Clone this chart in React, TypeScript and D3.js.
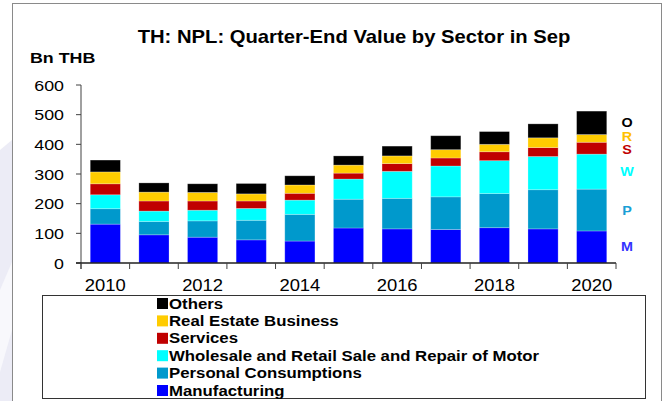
import * as d3 from "d3"

const years = ["2010", "2011", "2012", "2013", "2014", "2015", "2016", "2017", "2018", "2019", "2020"]
const manufacturing = [131, 95, 87, 78, 74, 118, 115, 113, 119, 115, 108]
const personal = [52, 45, 55, 66, 90, 97, 103, 110, 115, 132, 141]
const wholesale = [47, 35, 36, 40, 48, 68, 91, 104, 111, 112, 118]
const services = [37, 34, 31, 25, 23, 20, 26, 27, 30, 30, 40]
const realEstate = [40, 30, 29, 24, 28, 27, 26, 28, 25, 33, 26]
const others = [40, 31, 29, 35, 31, 31, 33, 47, 43, 47, 79]
const yTicks = [0, 100, 200, 300, 400, 500, 600]
const xTickLabels = ["2010", "2012", "2014", "2016", "2018", "2020"]

const series = [
  { key: "M", name: "Manufacturing", values: manufacturing, color: "#0000FF", label: "#3333FF" },
  { key: "P", name: "Personal Consumptions", values: personal, color: "#0099CC", label: "#1A9FD6" },
  { key: "W", name: "Wholesale and Retail Sale and Repair of Motor", values: wholesale, color: "#00FFFF", label: "#00FFFF" },
  { key: "S", name: "Services", values: services, color: "#C00000", label: "#C00000" },
  { key: "R", name: "Real Estate Business", values: realEstate, color: "#FFCC00", label: "#FFC000" },
  { key: "O", name: "Others", values: others, color: "#000000", label: "#000000" },
]

const W = 664
const H = 401
const SX = 1.15 // the source text is a little wider than it is tall
const FONT = "'Liberation Sans', Arial, sans-serif"

function T({ x, y, size, bold, anchor, fill, children }: any) {
  return (
    <text
      transform={`translate(${x},${y}) scale(${SX},1)`}
      fontSize={size}
      fontWeight={bold ? 700 : 400}
      textAnchor={anchor || "start"}
      fill={fill || "#000"}
      fontFamily={FONT}
    >
      {children}
    </text>
  )
}

export default function App() {
  const rows = years.map((year, i) => {
    const r: any = { year }
    series.forEach((s) => (r[s.key] = s.values[i]))
    return r
  })
  const stacked = d3.stack<any>().keys(series.map((s) => s.key))(rows)

  const x = d3.scaleBand().domain(years).range([81, 616]).paddingInner(0.38).paddingOuter(0.19)
  const y = d3.scaleLinear().domain([0, 600]).range([263, 85])
  const step = x.step()
  const boundaries = d3.range(years.length + 1).map((i) => 81 + i * step)

  // end labels next to the last bar, spread apart when they crowd
  const last = years.length - 1
  const endLabels = stacked.map((layer, i) => ({
    s: series[i],
    pos: y((layer[last][0] + layer[last][1]) / 2),
  }))
  const ordered = [...endLabels].sort((a, b) => a.pos - b.pos)
  const minGap = 13
  for (let k = 0; k < 6; k++) {
    for (let j = 1; j < ordered.length; j++) {
      const gap = ordered[j].pos - ordered[j - 1].pos
      if (gap < minGap) {
        const d = (minGap - gap) / 2
        ordered[j].pos += d
        ordered[j - 1].pos -= d
      }
    }
  }

  const legendItems = [...series].reverse()

  return (
    <div style={{ position: "fixed", left: 0, top: 0 }}>
      <svg width={W} height={H} style={{ display: "block" }}>
        <rect width={W} height={H} fill="#fff" />
        <path d="M0,150 L12,140 L12,401 L0,401 Z" fill="#ECECF6" />
        <path d="M0,290 L12,262 L12,330 L0,372 Z" fill="#F8F8FC" />
        <rect x={12.5} y={3.5} width={649} height={H} fill="#fff" stroke="#8a8a8a" strokeWidth={1} />

        <T x={354} y={43} size={17.6} bold anchor="middle">
          TH: NPL: Quarter-End Value by Sector in Sep
        </T>
        <T x={30} y={63} size={15.5} bold>
          Bn THB
        </T>

        {stacked.map((layer, i) => (
          <g key={series[i].key} fill={series[i].color}>
            {layer.map((d, j) => (
              <rect
                key={j}
                x={x(years[j])}
                y={y(d[1])}
                width={x.bandwidth()}
                height={y(d[0]) - y(d[1])}
                stroke="#fff"
                strokeOpacity={0.3}
                strokeWidth={0.8}
              />
            ))}
          </g>
        ))}

        {/* y axis */}
        <line x1={81} x2={81} y1={y(600)} y2={y(0) + 6} stroke="#808080" strokeWidth={1.5} />
        {yTicks.map((t) => (
          <g key={t}>
            <line x1={76} x2={81} y1={y(t)} y2={y(t)} stroke="#404040" strokeWidth={1} />
            <T x={64} y={y(t) + 5.5} size={15.5} anchor="end">
              {t}
            </T>
          </g>
        ))}

        {/* x axis */}
        <line x1={76} x2={616} y1={y(0)} y2={y(0)} stroke="#202020" strokeWidth={1.3} />
        {boundaries.map((b, i) => (
          <line key={i} x1={b} x2={b} y1={y(0)} y2={y(0) + 6} stroke="#404040" strokeWidth={1} />
        ))}
        {xTickLabels.map((l) => (
          <T key={l} x={(x(l) as number) + x.bandwidth() / 2} y={291} size={16} anchor="middle">
            {l}
          </T>
        ))}

        {endLabels.map((e) => (
          <T key={e.s.key} x={627} y={e.pos + 4.5} size={12.5} bold anchor="middle" fill={e.s.label}>
            {e.s.key}
          </T>
        ))}

        {/* legend */}
        <rect x={42.5} y={295.5} width={603} height={103} fill="#fff" stroke="#333" strokeWidth={1} />
        {legendItems.map((s, i) => {
          const cy = 303 + i * 17.4
          return (
            <g key={s.key}>
              <rect x={157} y={cy - 5} width={11} height={11} fill={s.color} />
              <T x={169} y={cy + 5.5} size={14.6} bold>
                {s.name}
              </T>
            </g>
          )
        })}
      </svg>
    </div>
  )
}
